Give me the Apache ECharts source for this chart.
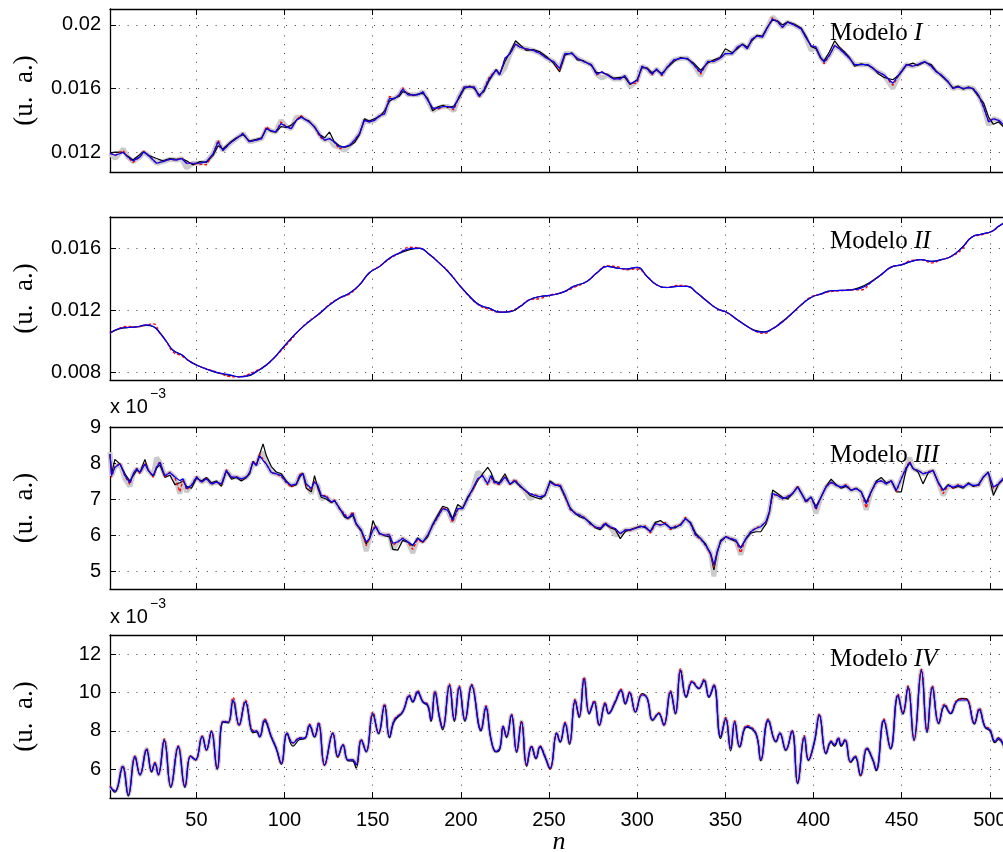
<!DOCTYPE html>
<html><head><meta charset="utf-8">
<script src="https://cdn.jsdelivr.net/npm/echarts@6/dist/echarts.min.js"></script>
<style>html,body{margin:0;padding:0;background:#fff}#c{width:1003px;height:852px}</style>
</head><body><div id="c"></div>
<script>
// ---------- data (values of panels I and II in units of 1e-3, panels III and IV in x10^-3) ----------
const xTicks = [50,100,150,200,250,300,350,400,450,500];
const p1Ticks = [12,16,20];
const p2Ticks = [8,12,16];
const p3Ticks = [5,6,7,8,9];
const p4Ticks = [6,8,10,12];

const n1 = [1,4,8.5,11,14,18,20,22.7,27.4,31,35,38.7,41.6,44.4,48,52,55.7,59.5,62.3,65,69,72.7,76.5,80,84,87,89.7,92.5,95,98,101,103.8,106.7,109.5,111,114,117,120,122.7,125.5,128,131,134,137,139.7,142.5,145.3,148,151,154,156.7,159.5,162.3,165,167,170,173,175.5,178.5,181,184,187,190,192.5,196,199,202,205,207.6,210.4,213,216,220,
222,225,228,231,233.5,237,241,245,248.7,252.5,256,259,263,266,269.5,274,277,280,283,286.6,290.4,293,296,300,302.7,305.6,308.4,311,314,317,320.8,324.6,328.4,332,336,340,343.5,347,350,354,356.8,359.7,362.5,365,368,371,374,376.7,379.6,382.4,385.3,389,393,395.7,398.6,401.4,404,406,409,412,414.7,417.6,420.4,423.3,427,431,433.7,436.5,440,445,449,452.6,456.4,459,463,466.8,469.6,472.5,476.3,479,482,485,488,490.6,493.5,496.4,499.3,502,505,508];
const p1Gray = [11.92,11.6,12.2,11.7,11.4,11.7,12.0,11.8,11.3,11.4,11.55,11.5,11.6,11.0,11.3,11.3,11.4,11.9,12.7,12.1,12.55,12.85,13.17,12.65,12.75,12.85,13.48,13.34,13.27,14.0,13.6,13.48,14.2,14.2,14.1,13.9,13.6,13.06,12.75,12.85,12.4,12.33,12.1,12.44,12.75,13.17,14.0,13.9,14.0,14.3,14.4,15.36,15.36,15.6,15.96,15.6,15.6,15.6,15.8,15.3,14.6,14.77,14.87,14.87,14.6,15.5,16.1,16.08,16.1,15.5,15.9,16.6,17.15,
16.86,17.3,18.2,18.8,18.6,18.5,18.4,18.2,17.9,17.7,17.26,18.2,18.2,17.9,17.7,17.5,16.9,16.65,16.85,16.6,16.6,16.8,16.1,16.5,17.4,17.24,16.9,17.24,16.85,17.35,17.8,17.9,17.9,17.5,16.8,17.7,17.7,17.9,18.2,18.2,18.6,18.77,18.5,19.1,19.3,19.23,19.85,20.5,20.2,19.85,20.17,20.0,19.75,19.2,18.4,18.6,17.97,17.66,18.08,18.7,18.5,18.2,17.9,17.5,17.5,17.5,17.26,17.05,16.85,16.0,16.95,17.5,17.4,17.5,17.7,17.4,17.05,16.85,16.44,16.0,16.1,16.0,16.06,16.0,15.6,14.87,13.7,14.1,14.0,13.7];
const p1Blue = [11.92,11.8,11.98,11.7,11.45,11.7,12.0,11.8,11.3,11.4,11.55,11.5,11.6,11.3,11.3,11.3,11.4,11.9,12.65,12.1,12.55,12.85,13.17,12.65,12.75,12.85,13.48,13.34,13.27,13.8,13.6,13.48,14.0,14.2,14.1,13.9,13.6,13.06,12.75,12.85,12.65,12.33,12.33,12.44,12.75,13.17,14.0,13.9,14.0,14.3,14.4,15.36,15.36,15.6,15.96,15.6,15.6,15.6,15.8,15.3,14.77,14.77,14.87,14.87,14.77,15.5,16.1,16.08,16.1,15.5,15.9,16.6,17.15,
16.86,17.9,18.2,18.8,18.6,18.5,18.4,18.2,17.9,17.7,17.26,18.2,18.2,17.9,17.7,17.5,16.9,17.05,16.85,16.6,16.6,16.8,16.3,16.5,17.4,17.24,16.9,17.24,16.85,17.35,17.8,17.9,17.9,17.5,17.0,17.7,17.7,17.9,18.2,18.2,18.6,18.77,18.5,19.1,19.3,19.23,19.85,20.37,20.2,19.85,20.17,20.0,19.75,19.2,18.7,18.6,17.97,17.66,18.08,18.7,18.5,18.2,17.9,17.5,17.5,17.5,17.26,17.05,16.85,16.33,16.95,17.5,17.4,17.5,17.7,17.4,17.05,16.85,16.44,16.0,16.1,16.0,16.06,16.0,15.6,14.87,13.9,14.1,14.0,13.7];
const p1Black = [11.95,12.0,11.98,11.75,11.5,11.85,12.05,11.8,11.6,11.45,11.6,11.55,11.6,11.45,11.2,11.4,11.35,11.8,12.4,12.2,12.6,12.9,13.1,12.7,12.8,12.9,13.5,13.3,13.25,13.6,13.55,13.7,14.0,14.25,14.1,13.95,13.55,13.1,12.9,13.27,12.7,12.4,12.3,12.4,12.6,13.1,14.1,13.95,14.1,14.25,14.6,15.2,15.4,15.5,15.8,15.7,15.55,15.65,15.7,15.4,14.6,14.85,14.95,14.8,14.9,15.4,16.0,16.15,16.0,15.6,15.8,16.5,17.2,
16.9,17.7,18.3,19.0,18.75,18.4,18.45,18.3,18.0,17.6,17.05,18.1,18.25,17.8,17.75,17.45,17.0,17.0,16.9,16.65,16.7,16.7,16.25,16.55,17.3,17.3,17.0,17.15,16.95,17.3,17.7,17.95,17.85,17.6,17.15,17.6,17.8,17.95,18.5,18.25,18.5,18.8,18.6,19.0,19.35,19.3,19.9,20.3,20.25,20.0,20.2,20.05,19.8,19.3,18.65,18.5,17.9,17.75,18.3,19.0,18.6,18.3,17.95,17.4,17.55,17.45,17.3,16.95,16.7,16.55,16.9,17.45,17.6,17.45,17.65,17.5,17.1,16.8,16.4,16.05,16.15,15.95,16.1,15.95,15.5,15.1,14.2,13.75,13.9,13.55];
const p1Red = [11.92,11.8,12.1,11.7,11.35,11.7,12.05,11.8,11.3,11.4,11.55,11.5,11.65,11.3,11.3,11.25,11.2,11.9,12.75,12.1,12.55,12.85,13.2,12.65,12.75,12.85,13.6,13.34,13.27,13.9,13.6,13.48,14.05,14.3,14.1,13.9,13.6,12.95,12.75,12.85,12.65,12.2,12.33,12.44,12.75,13.17,14.0,13.9,14.0,14.3,14.4,15.5,15.36,15.6,16.05,15.6,15.6,15.6,15.8,15.3,14.77,14.7,14.87,14.87,14.65,15.5,16.15,16.08,16.1,15.45,15.9,16.7,17.15,
16.86,17.9,18.2,18.8,18.6,18.5,18.4,18.2,17.9,17.7,17.15,18.2,18.2,17.9,17.7,17.5,16.85,17.05,16.85,16.6,16.6,16.8,16.3,16.35,17.4,17.24,16.85,17.24,16.8,17.35,17.8,17.9,17.9,17.5,16.9,17.7,17.7,17.9,18.2,18.2,18.6,18.77,18.5,19.1,19.3,19.23,19.85,20.45,20.2,19.85,20.17,20.0,19.75,19.2,18.7,18.6,17.97,17.55,18.08,18.7,18.5,18.2,17.9,17.5,17.5,17.5,17.26,17.05,16.85,16.2,16.95,17.5,17.4,17.5,17.7,17.4,17.05,16.85,16.44,16.0,16.1,16.0,16.06,16.0,15.6,14.8,13.9,14.1,14.0,13.7];

const n2 = [1,5.7,10.4,16,21.8,25.5,29.3,33,36.8,41.6,46.3,52,57.6,63.3,69,74.6,79.3,84,88.7,93.5,98,103,108.5,114,120,125.5,131,137,142.5,148,154,159.5,165,171,176.5,182,187.8,193.5,199,205,210.4,216,
222,228,233.5,239,245,250.6,258,264,271.4,277,283,288.5,294,300,305.6,311,317,322.7,328.4,334,339.8,345.4,351,356.8,362.5,368,372,376.7,381.5,387,393,398.6,404,410,415.6,421.3,427,432.7,438.4,444,449.8,455.5,461,466.8,472.5,478,484,489.7,495.4,501,505,508.5];
const p2Blue = [10.52,10.8,10.88,10.92,11.05,10.95,10.52,9.98,9.4,9.12,8.69,8.37,8.13,7.94,7.83,7.7,7.78,8.04,8.37,8.86,9.44,10.09,10.73,11.27,11.8,12.34,12.77,13.1,13.63,14.39,14.82,15.35,15.68,15.96,16.0,15.6,15.03,14.39,13.63,12.88,12.34,12.13,
11.87,11.91,12.24,12.67,12.88,12.95,13.16,13.53,13.85,14.39,14.82,14.71,14.65,14.75,14.17,13.63,13.46,13.53,13.53,13.1,12.56,12.09,11.85,11.38,10.95,10.62,10.58,10.8,11.16,11.7,12.34,12.82,13.03,13.25,13.27,13.31,13.42,13.8,14.28,14.77,14.92,15.14,15.25,15.14,15.25,15.46,16.0,16.7,16.9,17.07,17.4,17.66];
const p2Black = [10.52,10.78,10.88,10.92,11.02,10.95,10.55,9.98,9.42,9.12,8.7,8.37,8.12,7.92,7.8,7.72,7.76,8.04,8.4,8.86,9.44,10.09,10.73,11.27,11.8,12.34,12.77,13.1,13.63,14.39,14.82,15.35,15.65,15.9,15.98,15.6,15.03,14.39,13.63,12.88,12.34,12.13,
11.87,11.91,12.22,12.67,12.88,12.95,13.16,13.53,13.85,14.39,14.82,14.71,14.65,14.75,14.17,13.63,13.46,13.53,13.53,13.1,12.56,12.09,11.85,11.38,10.95,10.66,10.6,10.8,11.2,11.72,12.34,12.82,13.03,13.25,13.27,13.31,13.5,13.85,14.3,14.77,14.92,15.14,15.25,15.14,15.25,15.46,16.0,16.7,16.9,17.07,17.4,17.66];
const p2Red = [10.52,10.8,10.95,10.92,11.05,11.12,10.52,9.98,9.3,9.05,8.69,8.37,8.16,7.94,7.72,7.7,7.85,8.1,8.37,8.86,9.38,10.0,10.73,11.3,11.8,12.38,12.77,13.05,13.63,14.39,14.85,15.3,15.68,16.05,16.0,15.6,15.03,14.43,13.63,12.85,12.3,12.05,
11.87,11.95,12.24,12.67,12.75,12.98,13.16,13.45,13.85,14.39,14.85,14.8,14.6,14.65,14.17,13.63,13.46,13.6,13.53,13.1,12.56,12.09,11.82,11.38,10.95,10.6,10.5,10.8,11.16,11.7,12.34,12.86,13.03,13.2,13.25,13.31,13.3,13.8,14.28,14.77,14.92,15.2,15.25,15.05,15.25,15.46,15.9,16.7,16.85,17.07,17.4,17.66];

const n3 = [1,1.9,3.8,6.7,9.5,12.3,14.2,16.1,18,20.8,22.7,25.5,27.4,29.3,32.1,35,37.8,40.6,42.5,44.4,47.2,50.1,52.9,55.7,58.5,61.4,64.2,67,69.9,72.7,75.5,78.4,80.2,82.1,84,85.9,87.8,89.7,92.5,95.3,98.2,101,103.8,106.7,108.5,110.4,112.3,115.2,117,118.9,120.8,123.6,126.5,128.4,131.2,134,135.9,138.7,140.6,143.5,146.3,148.2,150.1,151.9,153.8,156.7,159.5,161.4,164.2,167,169.9,172.7,175.5,178.4,181.2,184,186.8,189.7,192.5,195.3,198.2,201,203.8,206.7,209.5,212.3,215.2,217,218.9,221.8,
222.1,225,227.8,230.6,233.5,236.3,239.2,242,244.9,247.7,250.6,253.4,256.3,259.1,262,264.8,267.6,270.5,273.3,276.2,279,281.9,284.7,287.6,290.4,293.3,296.1,299,301.8,304.6,307.5,310.3,313.2,316,318.9,321.7,324.6,327.4,330.3,333.1,336,338.8,341.7,343.5,345.4,347.3,350.2,353,355.9,358.7,361.6,364.4,367.3,370.1,373,374.9,376.8,379.6,382.4,385.3,388.1,391,393.8,395.7,398.6,401.4,404.3,407.1,410,412.8,415.7,418.5,421.3,424.2,427,429.9,432.7,435.6,438.4,441.3,444.1,447,449.8,452.7,454.6,456.5,459.3,462.1,465,467.8,470.7,473.5,476.4,479.2,482.1,484.9,487.8,490.6,493.5,496.3,499.1,502,504.8,507.7];
const p3Gray = [8.3,7.65,7.88,7.97,7.55,7.35,7.7,7.84,7.74,7.97,7.79,7.65,8.15,8.02,7.65,7.73,7.61,7.15,7.56,7.2,7.38,7.61,7.47,7.56,7.42,7.47,7.42,7.79,7.61,7.61,7.56,7.61,7.74,8.02,7.93,8.2,8.3,7.97,7.74,7.7,7.65,7.47,7.38,7.42,7.65,7.7,7.42,7.15,7.47,7.38,7.0,7.06,6.92,6.96,6.73,6.55,6.46,6.6,6.32,6.14,5.55,5.9,6.14,6.23,6.04,6.0,6.0,5.6,5.81,5.9,5.81,5.5,5.9,5.81,6.0,6.27,6.5,6.73,6.69,6.35,6.73,6.73,7.01,7.29,7.75,7.65,7.42,7.65,7.47,7.42,
7.42,7.61,7.42,7.51,7.38,7.24,7.0,7.1,7.06,7.1,7.47,7.38,7.38,7.1,6.73,6.6,6.55,6.46,6.32,6.23,6.18,6.32,6.23,6.0,6.04,6.14,6.14,6.18,6.23,6.23,6.09,6.32,6.27,6.32,6.18,6.23,6.27,6.46,6.32,6.0,5.9,5.72,5.49,4.85,5.54,5.81,5.95,5.9,5.86,5.45,5.9,6.09,6.18,6.23,6.37,6.64,7.15,7.1,7.01,7.06,7.15,7.33,7.1,6.92,7.06,6.6,7.06,7.33,7.47,7.38,7.33,7.38,7.24,7.29,7.2,6.7,7.2,7.47,7.51,7.42,7.51,7.24,7.56,7.88,8.15,7.84,7.79,7.7,7.74,7.79,7.47,7.1,7.38,7.33,7.38,7.33,7.42,7.38,7.38,7.61,7.74,7.2,7.42,7.58];
const p3Blue = [8.25,7.65,7.88,7.97,7.65,7.45,7.7,7.84,7.74,7.97,7.79,7.65,7.88,8.02,7.65,7.73,7.61,7.51,7.56,7.29,7.38,7.61,7.47,7.56,7.42,7.47,7.42,7.79,7.61,7.61,7.56,7.61,7.74,8.02,7.93,8.2,8.07,7.97,7.74,7.7,7.65,7.47,7.38,7.42,7.65,7.7,7.42,7.29,7.47,7.38,7.1,7.06,6.92,6.96,6.73,6.55,6.46,6.6,6.32,6.14,5.81,5.9,6.14,6.23,6.04,6.0,6.0,5.77,5.81,5.9,5.81,5.72,5.9,5.81,6.0,6.27,6.5,6.73,6.69,6.41,6.73,6.73,7.01,7.29,7.56,7.65,7.42,7.65,7.47,7.42,
7.42,7.61,7.42,7.51,7.38,7.24,7.15,7.1,7.06,7.1,7.47,7.38,7.38,7.1,6.73,6.6,6.55,6.46,6.32,6.23,6.18,6.32,6.23,6.18,6.04,6.14,6.14,6.18,6.23,6.23,6.09,6.32,6.27,6.32,6.18,6.23,6.27,6.46,6.32,6.0,5.9,5.72,5.49,5.17,5.54,5.81,5.95,5.9,5.86,5.63,5.9,6.09,6.18,6.23,6.37,6.64,7.15,7.1,7.01,7.06,7.15,7.33,7.1,6.92,7.06,6.73,7.06,7.33,7.47,7.38,7.33,7.38,7.24,7.29,7.2,6.87,7.2,7.47,7.51,7.42,7.51,7.24,7.56,7.88,8.02,7.84,7.79,7.7,7.74,7.79,7.47,7.24,7.38,7.33,7.38,7.33,7.42,7.38,7.38,7.61,7.74,7.33,7.42,7.58];
const p3Black = [8.25,7.7,8.1,7.97,7.7,7.5,7.65,7.8,7.74,8.1,7.8,7.62,7.85,7.95,7.6,7.66,7.4,7.45,7.5,7.35,7.3,7.58,7.5,7.6,7.45,7.5,7.35,7.78,7.55,7.6,7.5,7.6,7.7,8.05,7.95,8.25,8.53,8.2,7.9,7.75,7.7,7.5,7.35,7.4,7.6,7.72,7.3,7.2,7.65,7.3,7.05,7.0,6.9,6.95,6.75,6.5,6.45,6.55,6.3,6.1,5.75,5.9,6.4,6.2,6.05,5.98,5.95,5.6,5.58,5.85,5.8,5.7,5.92,5.8,5.95,6.3,6.55,6.8,6.75,6.45,6.85,6.75,7.05,7.25,7.5,7.7,7.88,7.75,7.5,7.45,
7.45,7.7,7.4,7.5,7.35,7.25,7.1,7.05,7.0,7.1,7.5,7.4,7.35,7.05,6.75,6.6,6.5,6.45,6.35,6.2,6.15,6.3,6.2,6.15,5.9,6.1,6.15,6.2,6.25,6.2,6.1,6.35,6.4,6.3,6.2,6.2,6.3,6.45,6.35,6.05,5.9,5.75,5.45,5.03,5.5,5.85,5.95,5.88,5.82,5.65,5.88,6.05,6.09,6.09,6.3,6.6,7.25,7.15,7.05,7.0,7.15,7.35,7.1,6.95,7.05,6.8,7.05,7.35,7.55,7.4,7.3,7.35,7.25,7.3,7.2,6.9,7.2,7.5,7.6,7.45,7.5,7.2,7.2,7.85,8.0,7.85,7.75,7.42,7.72,7.8,7.45,7.25,7.4,7.3,7.35,7.3,7.45,7.35,7.4,7.6,7.75,7.1,7.4,7.55];
const p3Red = [8.2,7.6,7.9,8.0,7.62,7.4,7.7,7.86,7.7,8.0,7.8,7.6,7.9,8.05,7.62,7.75,7.6,7.2,7.55,7.25,7.38,7.63,7.45,7.58,7.4,7.47,7.4,7.82,7.6,7.62,7.55,7.62,7.74,8.05,7.93,8.25,8.1,7.97,7.72,7.7,7.62,7.45,7.33,7.42,7.68,7.72,7.4,7.25,7.5,7.35,7.1,7.1,6.9,6.98,6.72,6.6,6.45,6.65,6.3,6.12,5.7,5.9,6.18,6.25,6.02,6.0,6.02,5.72,5.8,5.92,5.8,5.6,5.88,5.78,6.0,6.25,6.48,6.75,6.7,6.35,6.7,6.75,7.0,7.25,7.55,7.65,7.38,7.6,7.45,7.4,
7.42,7.62,7.4,7.55,7.38,7.22,7.15,7.12,7.06,7.12,7.45,7.4,7.4,7.05,6.7,6.62,6.55,6.48,6.3,6.22,6.2,6.35,6.2,6.18,6.02,6.15,6.12,6.2,6.22,6.25,6.05,6.3,6.28,6.35,6.15,6.25,6.28,6.5,6.3,5.98,5.88,5.7,5.45,5.1,5.55,5.8,5.95,5.92,5.85,5.5,5.9,6.1,6.2,6.25,6.35,6.6,7.1,7.12,7.0,7.08,7.15,7.35,7.1,6.9,7.05,6.7,7.05,7.35,7.45,7.38,7.33,7.4,7.24,7.3,7.2,6.75,7.2,7.45,7.5,7.42,7.52,7.2,7.58,7.9,8.05,7.82,7.8,7.7,7.76,7.8,7.45,7.15,7.38,7.3,7.4,7.33,7.42,7.38,7.35,7.62,7.72,7.3,7.42,7.58];

const n4 = [1,3.8,8.2,11.4,15.2,18,21.8,24.6,26.5,28.4,31.8,35.5,39.7,43.5,46.7,49.5,53.3,55.7,58.5,61.8,65.2,68,70.8,74.2,77.8,82.1,84,85.9,88.7,92.5,95.3,98.2,101.4,104.8,108.5,111.4,114.2,117,119.3,122.7,127.4,130.2,133.1,135.9,138.7,140.6,143.5,146.3,150.1,153.3,156.7,159.5,162.3,167,170.8,172.7,175.5,178.4,181.2,183.1,185.3,187.8,189.7,193.5,196.3,199.1,202.3,206.1,211.4,214.2,217,219.9,
222.1,224,225.9,228.7,231.6,234.4,237.3,240.1,242.6,244.9,247.7,250.6,254.4,256.3,259.1,261.6,264.8,267.1,269.9,272.8,275.6,278.5,281.9,283.8,287.6,290.8,293.3,295.7,299,302.8,305.6,308.8,312.2,315.1,318.9,321.7,324.6,327.8,331.2,335,337.9,340.7,343.5,347.3,350.2,353,355.3,358.1,362.1,367.3,370.1,374.3,378.7,380.9,384.3,387.8,391,394.8,397.1,400.5,403.3,407.1,410,411.9,414.1,415.7,417.9,421,423.6,426.7,430.3,433.7,435.6,439.9,443.7,447.9,450.7,453.6,457,461.2,464.4,467.4,471,474.4,477.7,481.1,483.9,486.8,491.2,494,497.2,500.1,502.9,504.8,508.4];
const p4Blue = [5.1,4.85,6.15,4.67,6.67,5.71,7.05,5.9,6.32,5.71,7.53,5.1,7.19,5.1,6.67,6.49,7.7,7.01,7.97,6.03,8.49,8.45,9.61,8.31,9.53,7.97,8.0,7.7,8.57,7.7,7.1,6.32,7.88,7.36,7.62,7.62,8.31,7.7,8.4,6.23,7.88,6.67,7.27,6.49,6.49,6.23,7.53,6.93,8.92,7.88,9.35,7.7,8.57,9.0,9.84,9.53,10.05,9.53,9.35,8.57,10.05,8.75,8.14,10.39,8.57,10.3,8.57,10.39,8.05,9.27,7.62,6.93,
7.1,8.23,7.7,8.83,6.93,8.49,6.23,7.19,6.58,7.19,6.67,6.06,7.88,7.45,8.4,7.36,9.61,8.75,10.74,8.92,9.53,8.31,9.44,8.92,9.53,10.13,9.44,10.0,9.0,9.87,9.7,8.57,8.92,8.31,10.05,8.92,11.17,9.79,10.56,10.22,10.65,9.79,10.39,7.7,8.66,7.1,8.49,7.19,8.23,7.88,6.49,8.57,7.45,7.88,7.01,8.0,5.28,7.7,6.49,7.45,8.83,6.84,7.45,7.27,7.62,7.27,7.53,6.4,6.67,5.71,7.1,6.49,5.97,8.57,7.1,9.87,8.92,10.3,7.53,11.17,7.97,10.3,8.4,9.35,8.92,9.53,9.61,9.61,8.4,9.14,8.23,8.05,7.45,7.62,7.1];
const p4Black = [5.1,4.8,6.1,4.6,6.6,5.7,7.0,5.85,6.3,5.72,7.48,5.05,7.15,5.05,6.7,6.5,7.72,7.0,7.95,6.0,8.45,8.42,9.55,8.3,9.5,7.9,7.95,7.68,8.5,7.65,7.05,6.25,7.85,7.2,7.55,7.6,8.25,7.68,8.35,6.2,7.85,6.62,7.25,6.45,6.42,6.06,7.5,6.9,8.85,7.85,9.3,7.65,8.5,8.98,9.8,9.5,10.0,9.5,9.3,8.5,10.0,8.7,8.05,10.35,8.5,10.25,8.5,10.35,8.0,9.2,7.6,6.9,
7.05,8.2,7.65,8.8,6.88,8.45,6.15,7.15,6.55,7.15,6.62,6.0,7.85,7.4,8.38,7.3,9.55,8.7,10.7,8.88,9.5,8.28,9.4,8.9,9.5,10.1,9.4,9.98,8.98,9.95,9.72,8.55,8.9,8.3,10.0,8.88,11.1,9.75,10.55,10.2,10.6,9.75,10.35,7.6,8.6,6.95,8.45,7.15,8.2,7.85,6.45,8.52,7.42,7.85,6.98,7.98,5.25,7.65,6.45,7.4,8.8,6.8,7.4,7.2,7.55,7.2,7.5,6.35,6.62,5.65,7.05,6.45,5.92,8.52,7.05,9.82,8.88,10.25,7.5,11.12,7.92,10.25,8.38,9.3,8.9,9.55,9.7,9.68,8.35,9.1,8.2,7.98,7.38,7.55,7.05];
const p4Red = [5.15,4.88,6.18,4.7,6.7,5.72,7.08,5.92,6.35,5.7,7.58,5.12,7.22,5.12,6.7,6.47,7.74,7.0,8.0,6.05,8.52,8.45,9.75,8.28,9.6,8.02,8.0,7.72,8.62,7.72,7.12,6.3,7.9,7.38,7.65,7.64,8.35,7.72,8.45,6.2,7.9,6.65,7.3,6.5,6.5,6.25,7.56,6.95,8.98,7.9,9.4,7.7,8.6,9.02,9.88,9.55,10.1,9.55,9.38,8.55,10.08,8.78,8.2,10.45,8.6,10.35,8.6,10.42,8.08,9.3,7.64,6.95,
7.12,8.25,7.72,8.88,6.95,8.52,6.2,7.22,6.6,7.22,6.7,6.02,7.92,7.48,8.45,7.38,9.65,8.78,10.8,8.95,9.58,8.3,9.48,8.95,9.58,10.18,9.48,10.05,9.02,9.9,9.72,8.6,8.95,8.3,10.1,8.95,11.25,9.82,10.6,10.25,10.7,9.8,10.42,7.72,8.7,7.1,8.52,7.2,8.28,7.9,6.48,8.62,7.48,7.9,7.02,8.05,5.3,7.75,6.5,7.48,8.88,6.85,7.48,7.3,7.65,7.3,7.56,6.38,6.7,5.68,7.12,6.5,5.98,8.62,7.12,9.92,8.95,10.35,7.55,11.2,8.0,10.35,8.42,9.4,8.95,9.58,9.65,9.65,8.42,9.18,8.26,8.08,7.48,7.65,7.12];

const titles = ['I','II','III','IV'];

// ---------- layout / style ----------
const SANS = '"Liberation Sans", Arial, Helvetica, sans-serif';
const SERIF = '"Liberation Serif", "Times New Roman", serif';
const DOT = {color:'#3a3a3a', width:1, type:[1,7.8]};
const AXL = {color:'#000', width:1.3};
const X_MIN = 1, X_MAX = 512;
const boxes = [{top:9,height:163},{top:217,height:163},{top:427,height:162},{top:635,height:163}];
const panels = [
  {n:n1, gray:p1Gray, black:p1Black, red:p1Red, blue:p1Blue, min:10.75, max:21, ticks:p1Ticks, fmt:v=>String(+(v/1000).toFixed(4)), smooth:false, grayW:5, ty:33},
  {n:n2, gray:null,   black:p2Black, red:p2Red, blue:p2Blue, min:7.5,  max:18, ticks:p2Ticks, fmt:v=>String(+(v/1000).toFixed(4)), smooth:true, grayW:0, ty:241},
  {n:n3, gray:p3Gray, black:p3Black, red:p3Red, blue:p3Blue, min:4.5,  max:9,  ticks:p3Ticks, fmt:v=>String(v), smooth:false, grayW:5, ty:455},
  {n:n4, gray:p4Blue, black:p4Black, red:p4Red, blue:p4Blue, min:4.5,  max:13, ticks:p4Ticks, fmt:v=>String(v), smooth:0.45, grayW:4, ty:659}
];

function pairs(xs, ys){ const m=Math.min(xs.length, ys.length); const out=[]; for(let i=0;i<m;i++) out.push([xs[i], ys[i]]); return out; }

const grid=[], xAxis=[], yAxis=[], series=[], graphic=[];
panels.forEach((p,i)=>{
  grid.push({left:110, width:901, top:boxes[i].top, height:boxes[i].height, containLabel:false, outerBoundsMode:'none'});
  xAxis.push({type:'value', gridIndex:i, min:X_MIN, max:X_MAX, position:'bottom',
    axisLine:{show:true, onZero:false, lineStyle:AXL},
    axisTick:{show:true, inside:true, length:6, customValues:xTicks, lineStyle:{color:'#000', width:1}},
    axisLabel:{show:i===3, customValues:xTicks, color:'#000', fontFamily:SANS, fontSize:20, margin:12},
    splitLine:{show:true, lineStyle:DOT}});
  xAxis.push({type:'value', gridIndex:i, min:X_MIN, max:X_MAX, position:'top',
    axisLine:{show:true, onZero:false, lineStyle:AXL},
    axisTick:{show:true, inside:true, length:6, customValues:xTicks, lineStyle:{color:'#000', width:1}},
    axisLabel:{show:false}, splitLine:{show:false}});
  yAxis.push({type:'value', gridIndex:i, min:p.min, max:p.max,
    axisLine:{show:true, onZero:false, lineStyle:AXL},
    axisTick:{show:true, inside:true, length:6, customValues:p.ticks, lineStyle:{color:'#000', width:1}},
    axisLabel:{customValues:p.ticks, formatter:p.fmt, color:'#000', fontFamily:SANS, fontSize:20, margin:9},
    splitLine:{show:true, lineStyle:DOT},
    name:'(u.  a.)', nameLocation:'middle', nameGap:72,
    nameTextStyle:{fontFamily:SERIF, fontSize:27, color:'#000'}});
  const base = {type:'line', xAxisIndex:2*i, yAxisIndex:i, showSymbol:false, symbol:'none', smooth:p.smooth, animation:false, silent:true};
  if (p.gray) series.push(Object.assign({}, base, {data:pairs(p.n,p.gray), lineStyle:{color:'#cbcbcb', width:p.grayW}}));
  series.push(Object.assign({}, base, {data:pairs(p.n,p.black), lineStyle:{color:'#000', width:1.2}}));
  series.push(Object.assign({}, base, {data:pairs(p.n,p.red), lineStyle:{color:'#ff0000', width:1.3, type:[3,2]}}));
  series.push(Object.assign({}, base, {data:pairs(p.n,p.blue), lineStyle:{color:'#0000ff', width:1.2}}));
  graphic.push({type:'text', x:830, y:p.ty, z:100, style:{text:'{a|Modelo }{b|'+titles[i]+'}', verticalAlign:'middle',
    rich:{a:{fontFamily:SERIF, fontSize:25, fill:'#000'}, b:{fontFamily:SERIF, fontStyle:'italic', fontSize:25, fill:'#000'}}}});
});
// x 10^-3 multipliers
[[407.5,394],[617,604]].forEach(([y,ys])=>{
  graphic.push({type:'text', x:110, y:y, style:{text:'x 10', font:'20px '+SANS, fill:'#000', verticalAlign:'middle'}});
  graphic.push({type:'text', x:150, y:ys, style:{text:'\u22123', font:'14px '+SANS, fill:'#000', verticalAlign:'middle'}});
});
graphic.push({type:'text', x:559, y:842, style:{text:'n', font:'italic 26px '+SERIF, fill:'#000', align:'center', verticalAlign:'middle'}});

const chart = echarts.init(document.getElementById('c'), null, {renderer:'canvas'});
chart.setOption({backgroundColor:'#fff', animation:false, grid, xAxis, yAxis, series, graphic});
</script></body></html>
